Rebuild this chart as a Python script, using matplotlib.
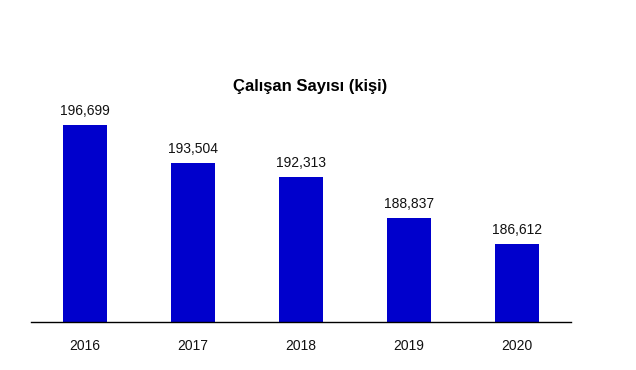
import matplotlib
matplotlib.use('Agg')
import matplotlib.pyplot as plt

plt.rcParams['font.family'] = ['Liberation Sans', 'DejaVu Sans']

years = ['2016', '2017', '2018', '2019', '2020']
employees = [196699, 193504, 192313, 188837, 186612]
title = 'Çalışan Sayısı (kişi)'

fig = plt.figure(figsize=(6.36, 3.70), dpi=100)
ax = fig.add_axes([31/636, 48/370, 540/636, 236/370])

x = range(len(years))
ax.bar(x, employees, width=0.4, color='#0000cc')
for i, v in zip(x, employees):
    ax.annotate(f'{v:,}', (i, v), xytext=(0, 5), textcoords='offset points',
                ha='center', va='bottom', fontsize=10, color='#111111')

ax.set_xlim(-0.5, 4.5)
ax.set_ylim(180000, 200000)
ax.set_xticks(list(x))
ax.set_xticklabels(years, fontsize=10, color='#111111')
ax.tick_params(axis='x', length=0, pad=12)
ax.set_yticks([])
for s in ['top', 'right', 'left']:
    ax.spines[s].set_visible(False)
ax.spines['bottom'].set_linewidth(1)

fig.text(310/636, 1 - 87/370, title, ha='center', va='center',
         fontsize=12, fontweight='bold')

fig.savefig('out.png', dpi=100)
